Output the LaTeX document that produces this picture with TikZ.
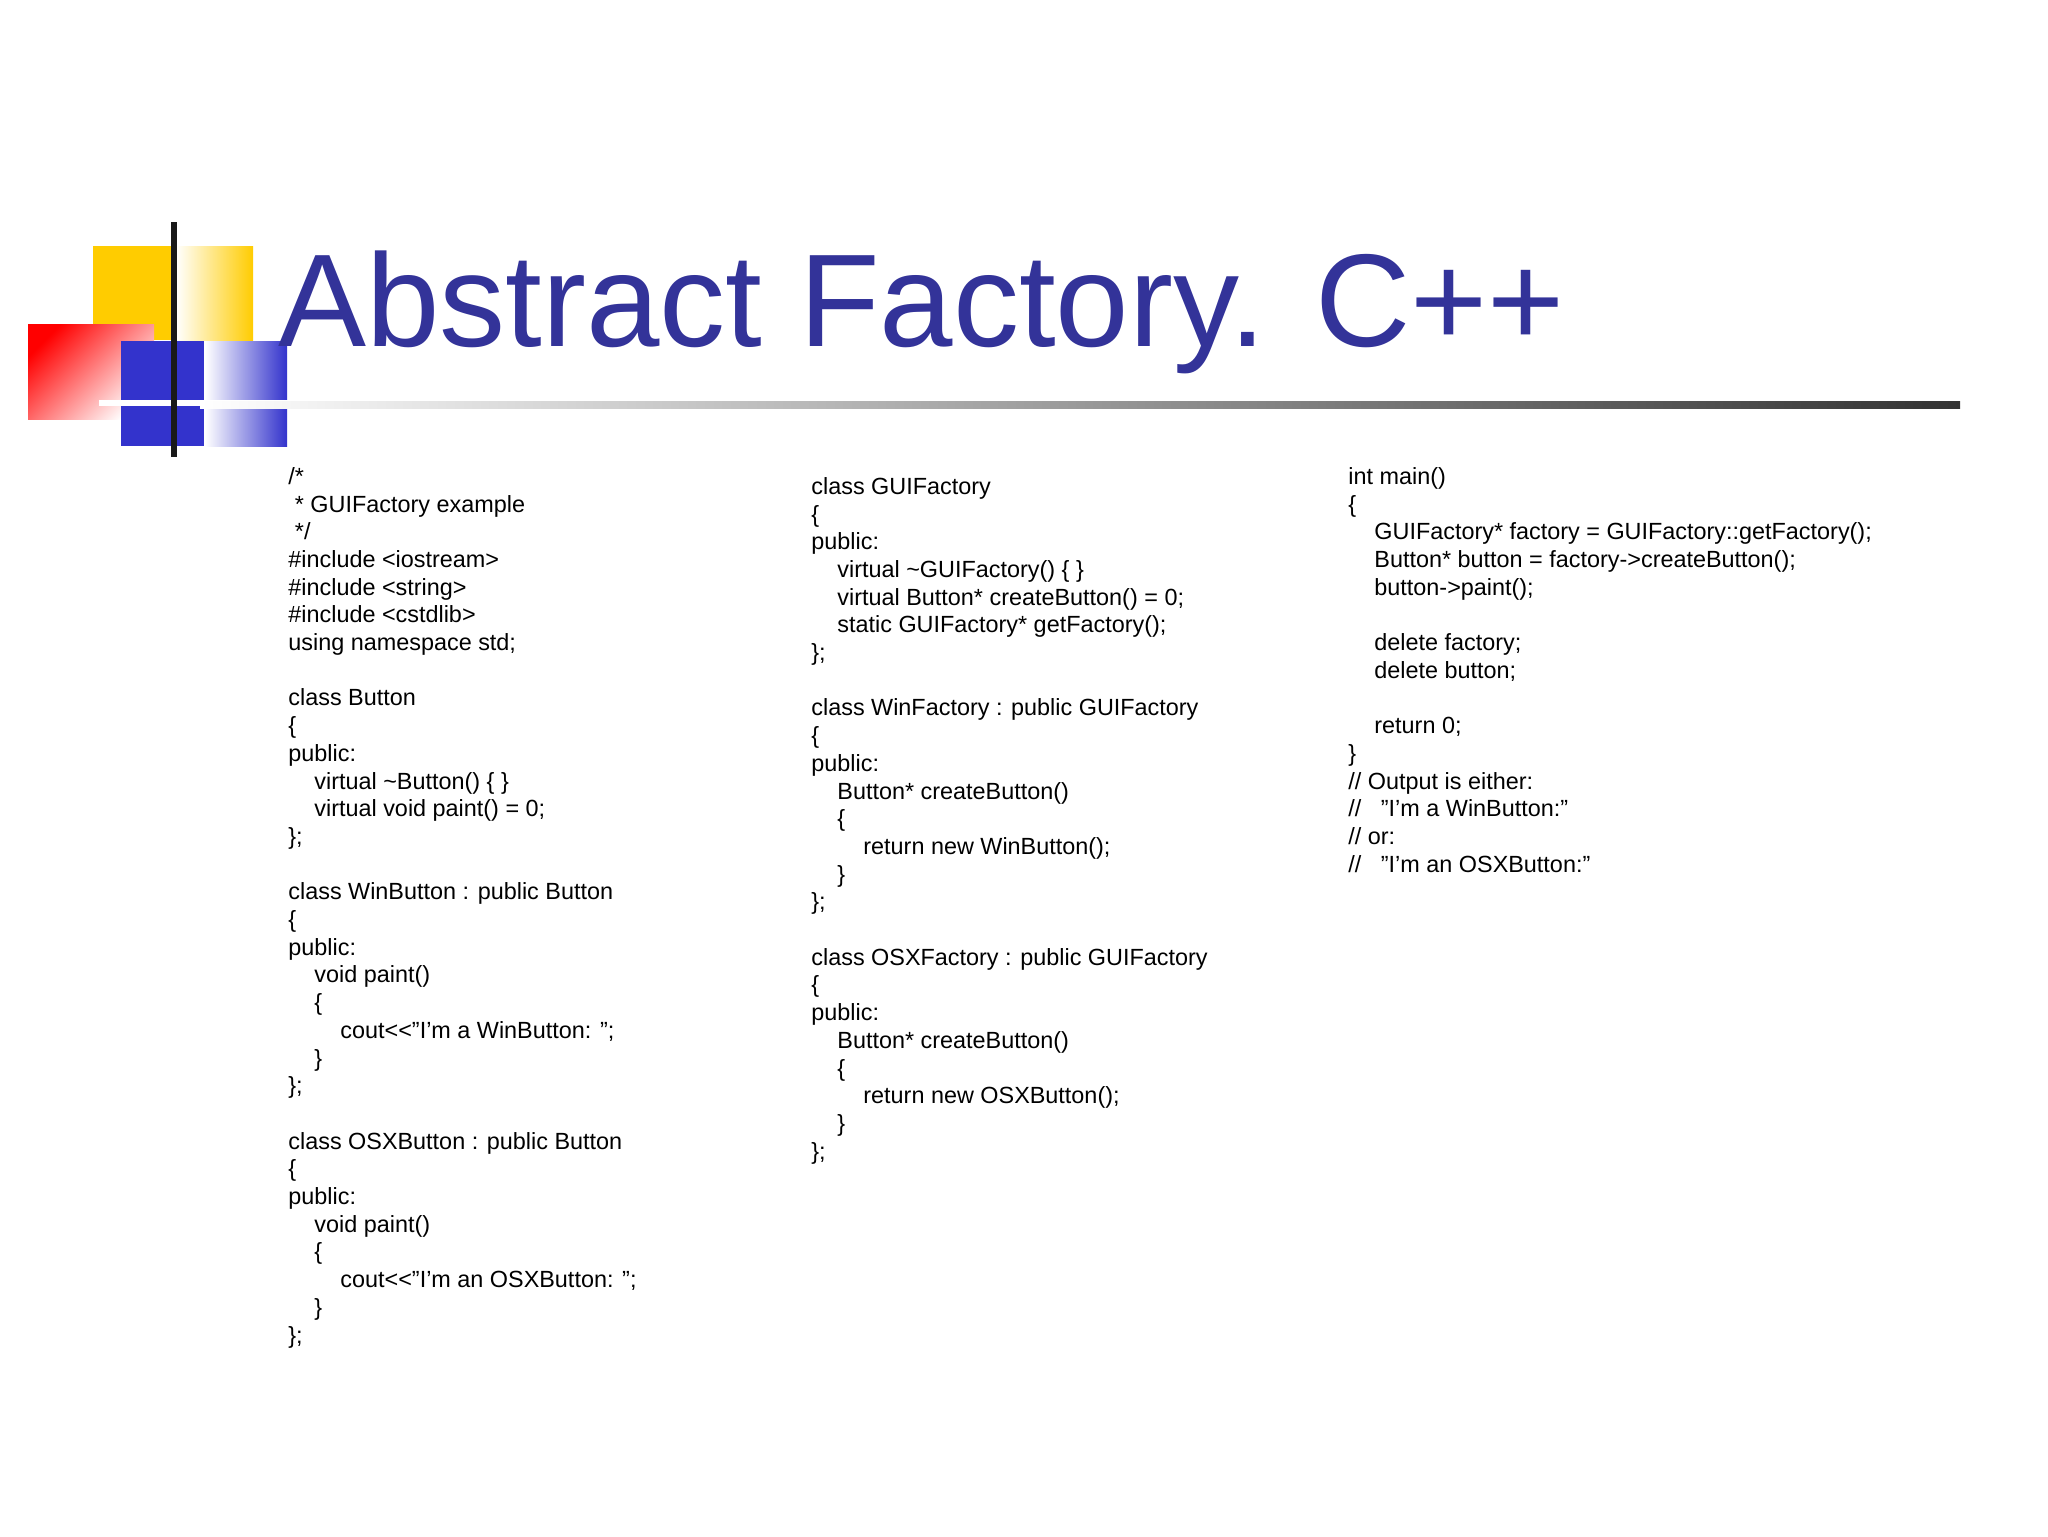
\documentclass[tikz,border=0pt]{standalone}
\usepackage{fontspec}
\setmainfont{Liberation Sans}
\begin{document}
\begin{tikzpicture}[x=0.5pt,y=-0.5pt,
  code/.style={anchor=north west,inner sep=0pt,align=left,font=\fontsize{11.7}{13.85}\selectfont}]
\definecolor{ttl}{HTML}{333399}
\definecolor{blu}{HTML}{3333CC}
\definecolor{yel}{HTML}{FFCC00}
\useasboundingbox[fill=white] (0,0) rectangle (2048,1536);
% logo
\fill[yel] (93,246) rectangle (173,340);
\shade[left color=white,right color=yel] (176,246) rectangle (253,340);
\shade[left color=red,right color=white,shading angle=45] (28,324) rectangle (154,419);
\fill[blu] (121,341) rectangle (204,446);
\shade[left color=white,right color=blu] (205,341) rectangle (287,446);
\fill[white] (99,400) rectangle (320,406);
\shade[left color=white,right color=black!80] (200,401) rectangle (1960,408);
\fill[black!90] (171,222) rectangle (177,457);
\node[anchor=base west,inner sep=0pt,text=ttl,font=\fontsize{66}{70}\selectfont] (title) at (278,346) {Abstract Factory. C++};
\newcommand\ia{\hspace*{13pt}}
\newcommand\ib{\hspace*{26pt}}
\node[code] (c1) at (288,467) {/*\\
\ * GUIFactory example\\
\ */\\
\#include <iostream>\\
\#include <string>\\
\#include <cstdlib>\\
using namespace std;\\
\mbox{}\\
class Button\\
\{\\
public:\\
\ia virtual \textasciitilde Button() \{ \}\\
\ia virtual void paint() = 0;\\
\};\\
\mbox{}\\
class WinButton : public Button\\
\{\\
public:\\
\ia void paint()\\
\ia \{\\
\ib cout<{}<"I'm a WinButton: ";\\
\ia \}\\
\};\\
\mbox{}\\
class OSXButton : public Button\\
\{\\
public:\\
\ia void paint()\\
\ia \{\\
\ib cout<{}<"I'm an OSXButton: ";\\
\ia \}\\
\};};
\node[code] (c2) at (811,477) {class GUIFactory\\
\{\\
public:\\
\ia virtual \textasciitilde GUIFactory() \{ \}\\
\ia virtual Button* createButton() = 0;\\
\ia static GUIFactory* getFactory();\\
\};\\
\mbox{}\\
class WinFactory : public GUIFactory\\
\{\\
public:\\
\ia Button* createButton()\\
\ia \{\\
\ib return new WinButton();\\
\ia \}\\
\};\\
\mbox{}\\
class OSXFactory : public GUIFactory\\
\{\\
public:\\
\ia Button* createButton()\\
\ia \{\\
\ib return new OSXButton();\\
\ia \}\\
\};};
\node[code] (c3) at (1348,467) {int main()\\
\{\\
\ia GUIFactory* factory = GUIFactory::getFactory();\\
\ia Button* button = factory->createButton();\\
\ia button->paint();\\
\mbox{}\\
\ia delete factory;\\
\ia delete button;\\
\mbox{}\\
\ia return 0;\\
\}\\
// Output is either:\\
//\ \ \ "I'm a WinButton:"\\
// or:\\
//\ \ \ "I'm an OSXButton:"};
\end{tikzpicture}
\end{document}
